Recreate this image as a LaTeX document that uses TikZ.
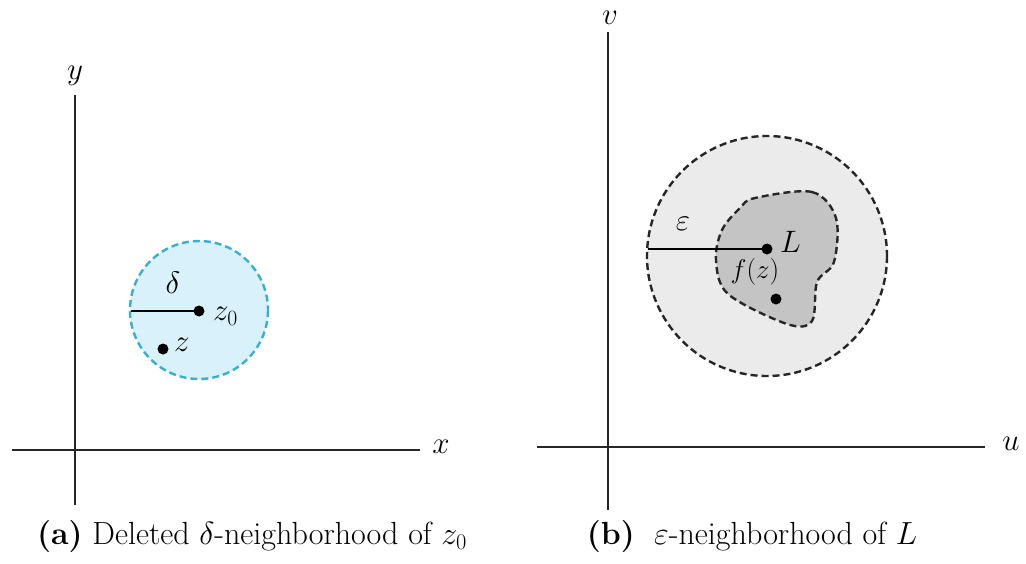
\RequirePackage{fix-cm}
\documentclass[tikz,border=0pt]{standalone}
\usetikzlibrary{calc}
\definecolor{cyanfill}{HTML}{D8F1FA}
\definecolor{cyanline}{HTML}{3AADD0}
\definecolor{lgray}{HTML}{EBEBEB}
\definecolor{mgray}{HTML}{C4C4C4}
\begin{document}
\begin{tikzpicture}[x=1pt,y=-1pt,
  axis/.style={line width=1.4pt,black!85},
  dashring/.style={dashed,dash pattern=on 7pt off 4pt,line width=2.4pt},
  lbl/.style={font=\fontsize{31}{34}\selectfont,inner sep=0pt},
  dotmark/.style={circle,fill=black,inner sep=0pt,minimum size=11pt},
  captext/.style={font=\fontsize{32}{34}\selectfont,inner sep=0pt}]
\useasboundingbox (0,0) rectangle (1026,563);
% ---------- panel (a)
\coordinate (ay0) at (75,95);
\coordinate (ay1) at (75,505);
\coordinate (ax0) at (12,450);
\coordinate (ax1) at (420,450);
\draw[axis] (ay0) -- (ay1);
\draw[axis] (ax0) -- (ax1);
\node[lbl] (ylab) at (75,76) {$y$};
\node[lbl] (xlab) at (441,447) {$x$};
\fill[cyanfill] (199,310) circle (69);
\draw[dashring,cyanline] (199,310) circle (69);
\node[dotmark] (z0) at (199,311) {};
\coordinate (aedge) at (131,311);
\draw[line width=1.4pt] (aedge) -- (z0.center);
\node[lbl] (delta) at (173,283) {$\delta$};
\node[lbl,anchor=west] (z0lab) at (213,316) {$z_0$};
\node[dotmark] (z) at (163,349) {};
\node[lbl,anchor=west] (zlab) at (174,345) {$z$};
\node[captext] (capa) at (252,537) {\textbf{(a)} Deleted $\delta$-neighborhood of $z_0$};
% ---------- panel (b)
\coordinate (by0) at (608,32);
\coordinate (by1) at (608,510);
\coordinate (bx0) at (537,447);
\coordinate (bx1) at (985,447);
\draw[axis] (by0) -- (by1);
\draw[axis] (bx0) -- (bx1);
\node[lbl] (vlab) at (610,18) {$v$};
\node[lbl] (ulab) at (1011,444) {$u$};
\fill[lgray] (767,256) circle (120);
\draw[dashring,black!85] (767,256) circle (120);
\draw[dashring,black!85,fill=mgray] plot[smooth cycle,tension=0.55] coordinates {
 (755,198) (812,192) (836,218) (834,262) (817,282) (812,321) (787,324)
 (728,294) (716,260) (722,230) (740,208)};
\node[dotmark] (L) at (767,249) {};
\coordinate (bedge) at (648,249);
\draw[line width=1.4pt] (bedge) -- (L.center);
\node[lbl] (eps) at (683,224) {$\varepsilon$};
\node[lbl,anchor=west] (Llab) at (780,242) {$L$};
\node[font=\fontsize{27}{30}\selectfont,inner sep=0pt] (fz) at (755,272) {$f(z)$};
\node[dotmark] (fzdot) at (776,299) {};
\node[captext] (capb) at (752,537) {\textbf{(b)}\ \ $\varepsilon$-neighborhood of $L$};
\end{tikzpicture}
\end{document}
